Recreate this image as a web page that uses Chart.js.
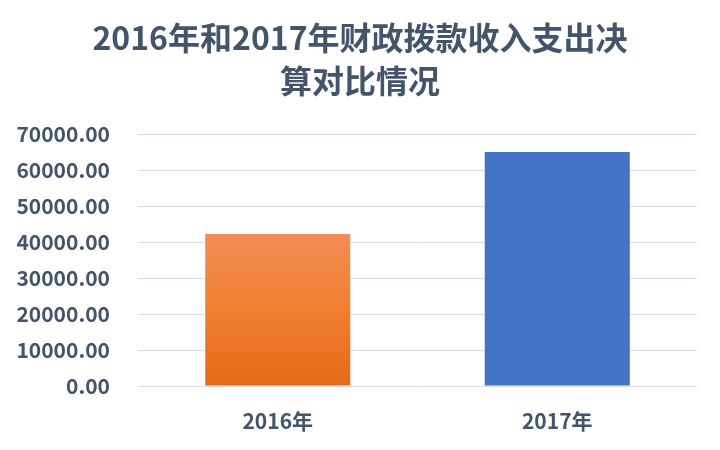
<!DOCTYPE html>
<html>
<head>
<meta charset="utf-8">
<script src="https://cdn.jsdelivr.net/npm/chart.js@4/dist/chart.umd.min.js"></script>
<style>
  html, body { margin: 0; padding: 0; background: #ffffff; }
  #wrap { width: 720px; height: 450px; }
</style>
</head>
<body>
<div id="wrap"><canvas id="c" width="720" height="450"></canvas></div>
<script>
// Chart data
const categories = ['2016年', '2017年'];
const amounts = [42222.22, 65000.00];
const titleLines = ['2016年和2017年财政拨款收入支出决', '算对比情况'];
const yTicks = [0, 10000, 20000, 30000, 40000, 50000, 60000, 70000];

const textColor = '#44546A';
const fontFamily = '"Noto Sans CJK SC", "Noto Sans", sans-serif';

// Orange bar gets a vertical gradient, blue bar is flat
function barFill(ctx) {
  const chart = ctx.chart;
  const area = chart.chartArea;
  if (!area) return '#ED7D31';
  if (ctx.dataIndex === 1) return '#4472C4';
  const yScale = chart.scales.y;
  const top = yScale.getPixelForValue(amounts[0]);
  const bottom = yScale.getPixelForValue(0);
  const g = chart.ctx.createLinearGradient(0, top, 0, bottom);
  g.addColorStop(0, '#F08D57');
  g.addColorStop(0.5, '#F27F30');
  g.addColorStop(1, '#E46A18');
  return g;
}

// Two-line heading centred on the full canvas width
const centredTitle = {
  id: 'centredTitle',
  afterDraw(chart) {
    const ctx = chart.ctx;
    ctx.save();
    ctx.font = 'bold 32px ' + fontFamily;
    ctx.fillStyle = textColor;
    ctx.textAlign = 'center';
    ctx.textBaseline = 'middle';
    const cx = chart.width / 2;
    titleLines.forEach((line, i) => ctx.fillText(line, cx, 38 + i * 43));
    ctx.restore();
  }
};

new Chart(document.getElementById('c'), {
  type: 'bar',
  data: {
    labels: categories,
    datasets: [{
      data: amounts,
      backgroundColor: barFill,
      borderWidth: 0,
      categoryPercentage: 1.0,
      barPercentage: 0.519
    }]
  },
  options: {
    responsive: false,
    animation: false,
    devicePixelRatio: 1,
    layout: { padding: { left: 6, right: 23, top: 134, bottom: 16 } },
    plugins: {
      legend: { display: false },
      tooltip: { enabled: false },
      title: { display: false }
    },
    scales: {
      x: {
        afterFit: (scale) => { scale.height = 48; },
        grid: { display: false, drawTicks: false },
        border: { display: false },
        ticks: {
          color: textColor,
          padding: 22,
          font: { family: fontFamily, size: 21, weight: 'bold' }
        }
      },
      y: {
        min: 0,
        max: 70000,
        afterBuildTicks: (scale) => { scale.ticks = yTicks.map(v => ({ value: v })); },
        afterFit: (scale) => { scale.width = 132; },
        grid: { color: '#D9DCE3', lineWidth: 1, drawTicks: false },
        border: { display: false },
        ticks: {
          color: textColor,
          padding: 28,
          font: { family: fontFamily, size: 21, weight: 'bold' },
          callback: (v) => Number(v).toFixed(2)
        }
      }
    }
  },
  plugins: [centredTitle]
});
</script>
</body>
</html>
